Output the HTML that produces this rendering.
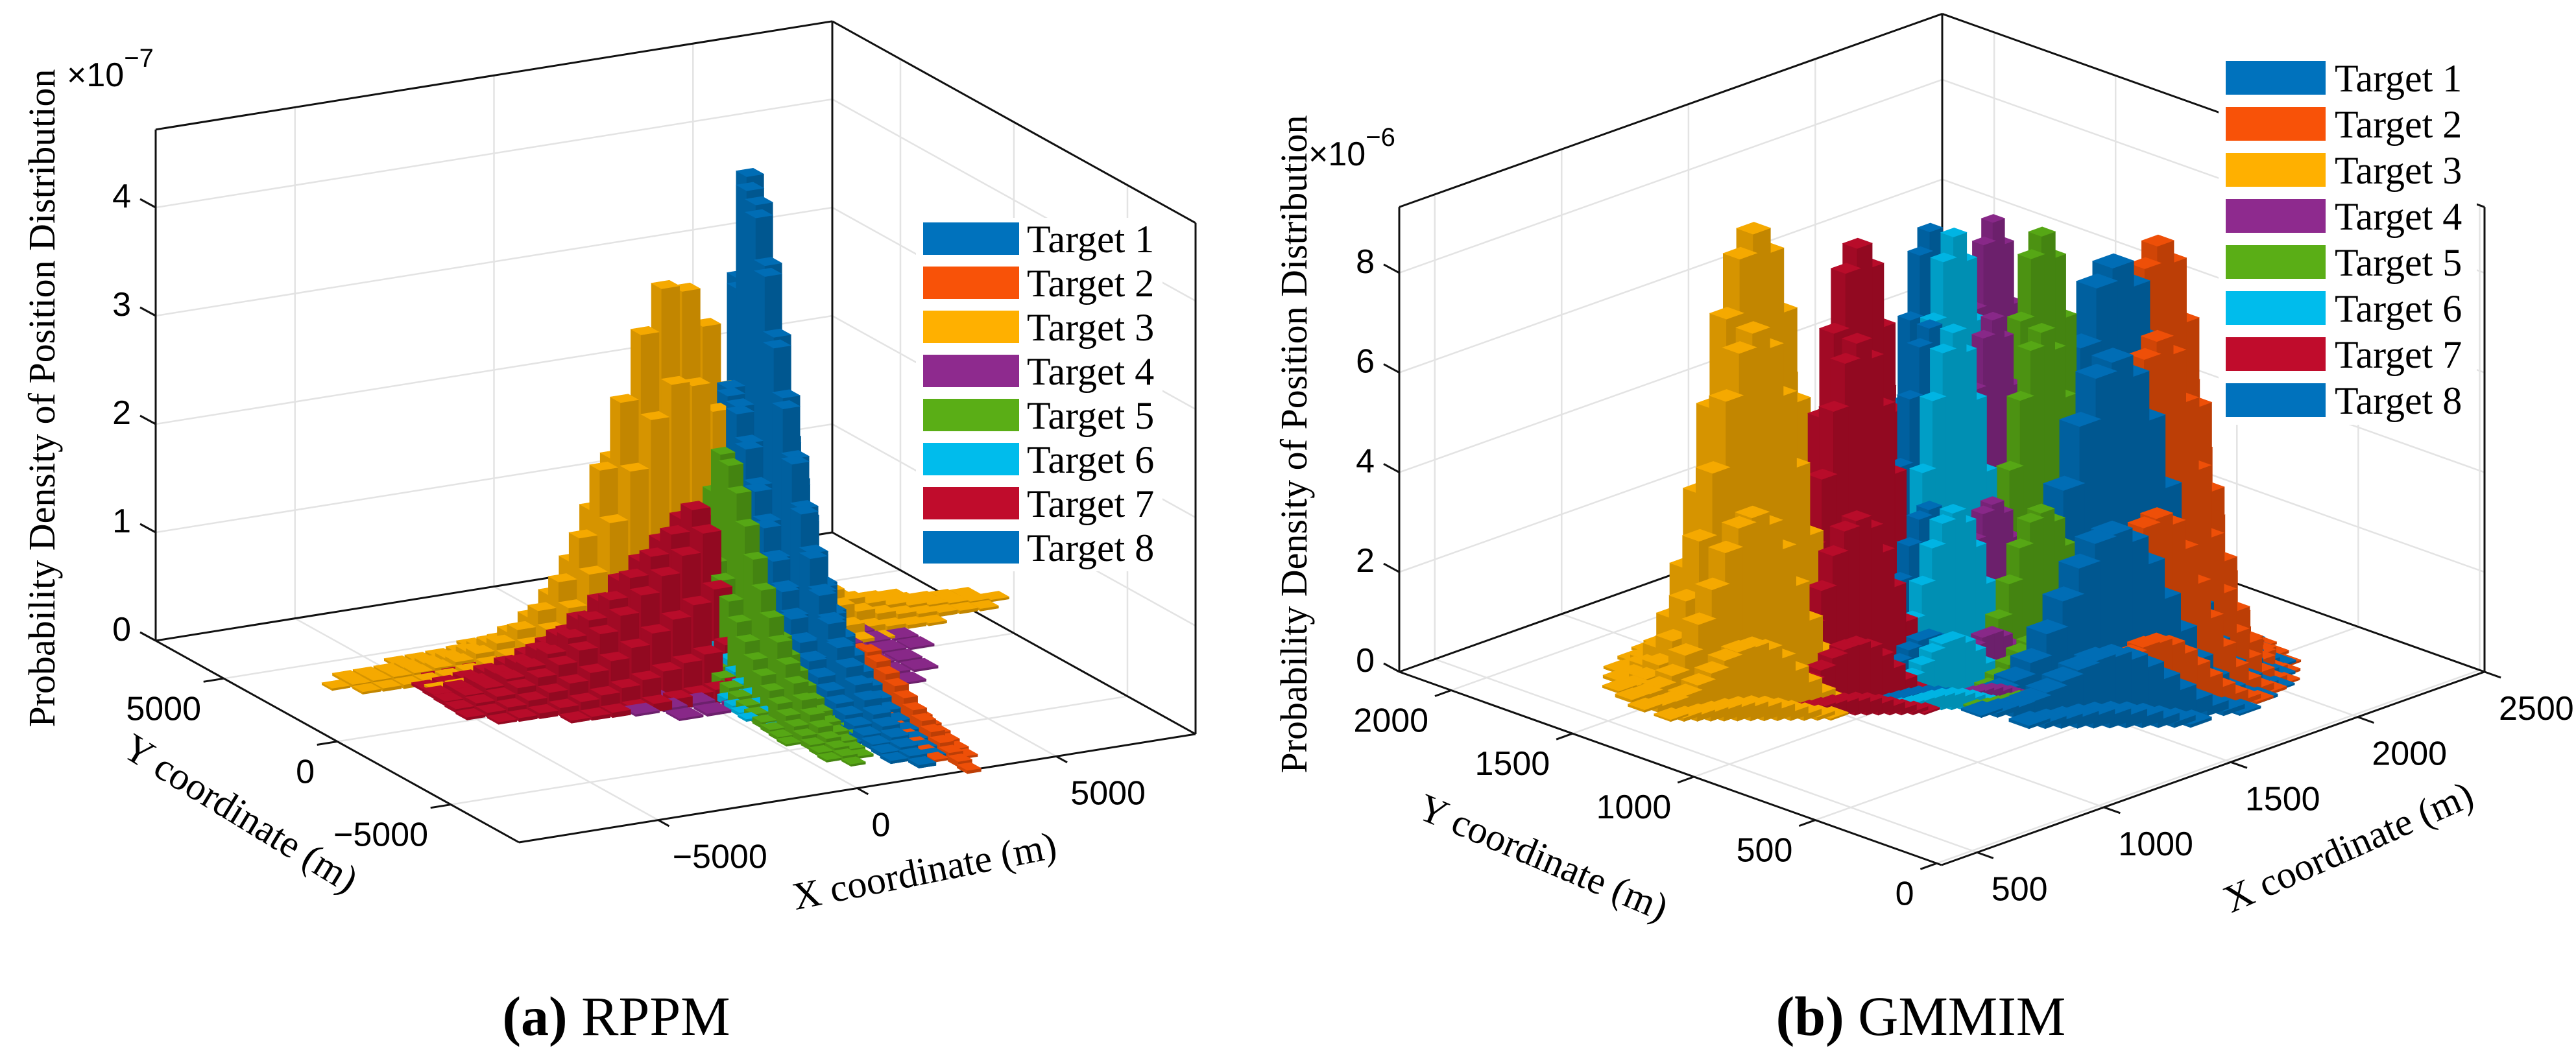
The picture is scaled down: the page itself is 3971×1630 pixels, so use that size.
<!DOCTYPE html>
<html><head><meta charset="utf-8"><style>
html,body{margin:0;padding:0;background:#fff;}
svg{display:block;}
text{font-family:"Liberation Sans",sans-serif;fill:#000;}
.serif{font-family:"Liberation Serif",serif;}
</style></head><body>
<svg id="chart" xmlns="http://www.w3.org/2000/svg" width="3971" height="1630" viewBox="0 0 3971 1630">
<rect x="0" y="0" width="3971" height="1630" fill="#fff"/>
<g id="a-grid"></g>
<g id="a-box"></g>
<g id="a-bars"></g>
<g id="a-ticks"></g>
<g id="b-grid"></g>
<g id="b-box"></g>
<g id="b-bars"></g>
<g id="b-ticks"></g>

<!-- Panel A texts -->
<text class="serif" font-size="58" text-anchor="middle" transform="translate(84,614) rotate(-90)">Probability Density of Position Distribution</text>
<text x="103" y="133" font-size="52">×10<tspan dy="-30" font-size="40">−7</tspan></text>
<text class="serif" font-size="60" text-anchor="middle" dominant-baseline="central" transform="translate(371,1254) rotate(31.5)">Y coordinate (m)</text>
<text class="serif" font-size="60" text-anchor="middle" dominant-baseline="central" transform="translate(1425,1343) rotate(-11.3)">X coordinate (m)</text>
<text class="serif" x="950" y="1596" font-size="86" text-anchor="middle"><tspan font-weight="bold">(a)</tspan> RPPM</text>

<!-- Panel B texts -->
<text class="serif" font-size="58" text-anchor="middle" transform="translate(2014,685) rotate(-90)">Probability Density of Position Distribution</text>
<rect x="2016" y="195" width="145" height="70" fill="#fff"/>
<text x="2017" y="255" font-size="52">×10<tspan dy="-30" font-size="40">−6</tspan></text>
<text class="serif" font-size="60" text-anchor="middle" dominant-baseline="central" transform="translate(2379,1322) rotate(23)">Y coordinate (m)</text>
<text class="serif" font-size="60" text-anchor="middle" dominant-baseline="central" transform="translate(3620,1306) rotate(-24)">X coordinate (m)</text>
<text class="serif" x="2961" y="1596" font-size="86" text-anchor="middle"><tspan font-weight="bold">(b)</tspan> GMMIM</text>

<!-- Legend A -->
<g>
<rect x="1412" y="336" width="380" height="545" fill="#fff"/>
<g><rect x="1423" y="343" width="148" height="50" fill="#0072BD"/><text class="serif" x="1583" y="389" font-size="60">Target 1</text></g>
<g><rect x="1423" y="411" width="148" height="50" fill="#F85208"/><text class="serif" x="1583" y="457" font-size="60">Target 2</text></g>
<g><rect x="1423" y="479" width="148" height="50" fill="#FFB000"/><text class="serif" x="1583" y="525" font-size="60">Target 3</text></g>
<g><rect x="1423" y="547" width="148" height="50" fill="#8E2A8E"/><text class="serif" x="1583" y="593" font-size="60">Target 4</text></g>
<g><rect x="1423" y="615" width="148" height="50" fill="#5AAE16"/><text class="serif" x="1583" y="661" font-size="60">Target 5</text></g>
<g><rect x="1423" y="683" width="148" height="50" fill="#00BCEC"/><text class="serif" x="1583" y="729" font-size="60">Target 6</text></g>
<g><rect x="1423" y="751" width="148" height="50" fill="#C00C2C"/><text class="serif" x="1583" y="797" font-size="60">Target 7</text></g>
<g><rect x="1423" y="819" width="148" height="50" fill="#0072BD"/><text class="serif" x="1583" y="865" font-size="60">Target 8</text></g>
</g>

<!-- Legend B -->
<g>
<rect x="3420" y="85" width="398" height="570" fill="#fff"/>
<g><rect x="3431" y="94" width="154" height="52" fill="#0072BD"/><text class="serif" x="3599" y="141" font-size="60">Target 1</text></g>
<g><rect x="3431" y="165" width="154" height="52" fill="#F85208"/><text class="serif" x="3599" y="212" font-size="60">Target 2</text></g>
<g><rect x="3431" y="236" width="154" height="52" fill="#FFB000"/><text class="serif" x="3599" y="283" font-size="60">Target 3</text></g>
<g><rect x="3431" y="307" width="154" height="52" fill="#8E2A8E"/><text class="serif" x="3599" y="354" font-size="60">Target 4</text></g>
<g><rect x="3431" y="378" width="154" height="52" fill="#5AAE16"/><text class="serif" x="3599" y="425" font-size="60">Target 5</text></g>
<g><rect x="3431" y="449" width="154" height="52" fill="#00BCEC"/><text class="serif" x="3599" y="496" font-size="60">Target 6</text></g>
<g><rect x="3431" y="520" width="154" height="52" fill="#C00C2C"/><text class="serif" x="3599" y="567" font-size="60">Target 7</text></g>
<g><rect x="3431" y="591" width="154" height="52" fill="#0072BD"/><text class="serif" x="3599" y="638" font-size="60">Target 8</text></g>
</g>
</svg>
<script>
// ---------- Tick values ----------
const aTickX = [-5000, 0, 5000];
const aTickY = [-5000, 0, 5000];
const aTickZ = [0, 1, 2, 3, 4];
const aTickLabelX = ['−5000', '0', '5000'];
const aTickLabelY = ['−5000', '0', '5000'];
const bTickX = [500, 1000, 1500, 2000, 2500];
const bTickY = [0, 500, 1000, 1500, 2000];
const bTickZ = [0, 2, 4, 6, 8];

// ---------- Target colors ----------
const targetColors = ['#0072BD', '#F85208', '#FFB000', '#8E2A8E', '#5AAE16', '#00BCEC', '#C00C2C', '#0072BD'];

// ---------- Panel A (RPPM) data ----------
const aCenterX = [3180, 3500, 1400, 2000, 1630, 1600, 1070, 3180];
const aCenterY = [2300, -2000, 2900, 1000, 770, 1250, 1003, 2300];
const aAngle = [-96.4, -96.4, -3.7, 0, -96.4, -98, -3.7, -96.4];
const aStep = [500, 500, 500, 700, 450, 400, 500, 500];
const aStart = [-6, 0, -16, -6, -4, -3, -12, -6];
const aCrossStep = [450, 350, 500, 700, 380, 350, 550, 450];
const aProfile1 = [0.05, 0.15, 0.4, 1.0, 2.0, 3.3, 4.3, 4.1, 3.6, 3.0, 2.5, 2.0, 1.6, 1.25, 0.95, 0.75, 0.58, 0.45, 0.35, 0.27, 0.2, 0.15, 0.11, 0.08, 0.05, 0.03];
const aProfile2 = [0.4, 0.45, 0.42, 0.37, 0.32, 0.27, 0.22, 0.18, 0.14, 0.1, 0.07, 0.05, 0.03];
const aProfile3 = [0.02, 0.03, 0.04, 0.05, 0.06, 0.08, 0.11, 0.16, 0.23, 0.33, 0.48, 0.72, 1.1, 1.7, 2.3, 2.9, 3.3, 3.25, 2.9, 2.3, 1.7, 1.1, 0.7, 0.45, 0.3, 0.2, 0.14, 0.1, 0.07, 0.05, 0.04, 0.03, 0.02];
const aProfile4 = [0.02, 0.03, 0.04, 0.05, 0.06, 0.06, 0.07, 0.06, 0.06, 0.05, 0.04, 0.03, 0.02];
const aProfile5 = [0.1, 0.4, 1.0, 1.6, 2.0, 1.95, 1.75, 1.5, 1.25, 1.02, 0.82, 0.65, 0.5, 0.38, 0.28, 0.2, 0.14, 0.09, 0.06, 0.04, 0.02];
const aProfile6 = [0.1, 0.45, 0.85, 1.1, 1.05, 0.92, 0.78, 0.64, 0.52, 0.41, 0.31, 0.23, 0.16, 0.11, 0.07, 0.04];
const aProfile7 = [0.04, 0.07, 0.11, 0.17, 0.25, 0.35, 0.47, 0.61, 0.77, 0.95, 1.12, 1.3, 1.5, 1.42, 1.2, 0.85, 0.5, 0.25, 0.1];
const aProfile8 = [0.05, 0.14, 0.38, 0.97, 1.95, 3.2, 4.17, 3.98, 3.5, 2.9, 2.4, 1.95, 1.55, 1.2, 0.92, 0.72, 0.56, 0.44, 0.34, 0.26, 0.19, 0.14, 0.1, 0.07, 0.05, 0.03];
const aCross1 = [0.15, 0.55, 1, 0.55, 0.15];
const aCross2 = [0.3, 1, 0.3];
const aCross3 = [0.1, 0.35, 0.75, 1, 0.75, 0.35, 0.1];
const aCross4 = [0.3, 0.5, 0.7, 0.85, 0.95, 1, 0.95, 0.85, 0.7, 0.5, 0.3];
const aCross5 = [0.15, 0.55, 1, 0.55, 0.15];
const aCross6 = [0.2, 0.6, 1, 0.6, 0.2];
const aCross7 = [0.1, 0.3, 0.6, 0.9, 1, 0.9, 0.6, 0.3, 0.1];
const aCross8 = [0.15, 0.55, 1, 0.55, 0.15];

// ---------- Panel B (GMMIM) data ----------
const bCenterX = [1751, 1855, 1030, 1515, 1607, 1429, 1234, 1390];
const bCenterY = [727, 652, 1455, 975, 870, 1047, 1240, 1104];
const bStep = [46, 36, 38, 26, 30, 29, 33, 28];
const bProfile1 = [0.05, 0.14, 0.32, 0.65, 1.2, 2.1, 3.5, 5.1, 6.7, 7.9, 8.3, 7.9, 6.8, 5.1, 3.5, 2.1, 1.2, 0.64, 0.31, 0.13, 0.05];
const bProfile2 = [0.05, 0.14, 0.33, 0.68, 1.25, 2.2, 3.6, 5.3, 7.0, 8.2, 8.65, 8.3, 7.1, 5.4, 3.7, 2.3, 1.3, 0.66, 0.32, 0.13, 0.05];
const bProfile3 = [0.06, 0.15, 0.35, 0.7, 1.3, 2.3, 3.8, 5.5, 7.3, 8.5, 9.0, 8.6, 7.4, 5.6, 3.9, 2.4, 1.3, 0.7, 0.33, 0.14, 0.05];
const bProfile4 = [0.06, 0.16, 0.36, 0.72, 1.3, 2.35, 3.9, 5.6, 7.4, 8.7, 9.15, 8.7, 7.5, 5.6, 3.8, 2.3, 1.3, 0.7, 0.34, 0.15, 0.06];
const bProfile5 = [0.06, 0.15, 0.34, 0.7, 1.28, 2.28, 3.75, 5.45, 7.2, 8.45, 8.9, 8.45, 7.25, 5.45, 3.75, 2.25, 1.28, 0.69, 0.33, 0.14, 0.05];
const bProfile6 = [0.06, 0.15, 0.35, 0.69, 1.3, 2.3, 3.7, 5.4, 7.2, 8.4, 8.9, 8.4, 7.2, 5.4, 3.7, 2.2, 1.25, 0.68, 0.33, 0.14, 0.05];
const bProfile7 = [0.05, 0.14, 0.33, 0.68, 1.25, 2.2, 3.6, 5.3, 7.0, 8.2, 8.7, 8.3, 7.1, 5.4, 3.7, 2.3, 1.3, 0.66, 0.32, 0.13, 0.05];
const bProfile8 = [0.06, 0.15, 0.34, 0.7, 1.3, 2.3, 3.8, 5.5, 7.2, 8.5, 8.97, 8.5, 7.3, 5.5, 3.8, 2.3, 1.3, 0.7, 0.34, 0.15, 0.06];
const bCross = [0.03, 0.14, 0.41, 0.8, 1, 0.8, 0.41, 0.14, 0.03];

// ---------- Geometry (layout, not data) ----------
const NS = 'http://www.w3.org/2000/svg';
const panelA = {fx: 800, fy: 1299, ux: 1043, uy: -167, vx: -560, vy: -311, xmin: -8500, xmax: 8500, ymin: -8000, ymax: 8000, zpx: 167, zmax: 4.72};
const panelB = {fx: 2993, fy: 1334, ux: 837, uy: -298, vx: -836, vy: -298, xmin: 360, xmax: 2500, ymin: -20, ymax: 2214, zpx: 76.9, zmax: 9.32};

function P(pn, x, y, z) {
  const u = (x - pn.xmin) / (pn.xmax - pn.xmin);
  const v = (y - pn.ymin) / (pn.ymax - pn.ymin);
  return [pn.fx + u * pn.ux + v * pn.vx, pn.fy + u * pn.uy + v * pn.vy - z * pn.zpx];
}
function depth(pn, x, y) {
  return (x - pn.xmin) / (pn.xmax - pn.xmin) + (y - pn.ymin) / (pn.ymax - pn.ymin);
}
function line(g, a, b, color, w, name) {
  const el = document.createElementNS(NS, 'line');
  
  
  el.setAttribute('x1', a[0].toFixed(1)); el.setAttribute('y1', a[1].toFixed(1));
  el.setAttribute('x2', b[0].toFixed(1)); el.setAttribute('y2', b[1].toFixed(1));
  el.setAttribute('stroke', color); el.setAttribute('stroke-width', w);
  g.appendChild(el);
}
function label(g, x, y, s, anchor, name) {
  const el = document.createElementNS(NS, 'text');
  
  
  el.setAttribute('x', x.toFixed(1)); el.setAttribute('y', y.toFixed(1));
  el.setAttribute('font-size', '52');
  el.setAttribute('text-anchor', anchor);
  el.textContent = s;
  g.appendChild(el);
}
function shade(hex, f) {
  const n = parseInt(hex.slice(1), 16);
  const r = Math.round(((n >> 16) & 255) * f), g = Math.round(((n >> 8) & 255) * f), b = Math.round((n & 255) * f);
  return 'rgb(' + Math.min(255, r) + ',' + Math.min(255, g) + ',' + Math.min(255, b) + ')';
}

function drawAxes(pn, prefix, tx, ty, tz, txLab, tyLab) {
  const grid = document.getElementById(prefix + '-grid');
  const box = document.getElementById(prefix + '-box');
  const ticks = document.getElementById(prefix + '-ticks');
  const gc = '#e3e3e3';
  const {xmin, xmax, ymin, ymax, zmax} = pn;
  tz.forEach(z => {
    line(grid, P(pn, xmin, ymax, z), P(pn, xmax, ymax, z), gc, 2.5, 'z-gridline');
    line(grid, P(pn, xmax, ymin, z), P(pn, xmax, ymax, z), gc, 2.5, 'z-gridline');
  });
  tx.forEach(x => {
    line(grid, P(pn, x, ymax, 0), P(pn, x, ymax, zmax), gc, 2.5, 'x-gridline');
    line(grid, P(pn, x, ymin, 0), P(pn, x, ymax, 0), gc, 2.5, 'x-gridline');
  });
  ty.forEach(y => {
    line(grid, P(pn, xmax, y, 0), P(pn, xmax, y, zmax), gc, 2.5, 'y-gridline');
    line(grid, P(pn, xmin, y, 0), P(pn, xmax, y, 0), gc, 2.5, 'y-gridline');
  });
  const k = '#111';
  line(box, P(pn, xmin, ymin, 0), P(pn, xmax, ymin, 0), k, 3, 'x-axis-line');
  line(box, P(pn, xmin, ymin, 0), P(pn, xmin, ymax, 0), k, 3, 'y-axis-line');
  line(box, P(pn, xmin, ymax, 0), P(pn, xmax, ymax, 0), k, 3, 'floor-back-edge');
  line(box, P(pn, xmax, ymin, 0), P(pn, xmax, ymax, 0), k, 3, 'floor-back-edge');
  line(box, P(pn, xmin, ymax, 0), P(pn, xmin, ymax, zmax), k, 3, 'z-axis-line');
  line(box, P(pn, xmax, ymax, 0), P(pn, xmax, ymax, zmax), k, 3, 'back-vertical-edge');
  line(box, P(pn, xmax, ymin, 0), P(pn, xmax, ymin, zmax), k, 3, 'right-vertical-edge');
  line(box, P(pn, xmin, ymax, zmax), P(pn, xmax, ymax, zmax), k, 3, 'top-back-edge');
  line(box, P(pn, xmax, ymin, zmax), P(pn, xmax, ymax, zmax), k, 3, 'top-back-edge');
  const yr = ymax - ymin, xr = xmax - xmin;
  tz.forEach(z => {
    const p = P(pn, xmin, ymax, z);
    line(box, p, [p[0] - 24, p[1] - 13], k, 3, 'z-tick');
    label(ticks, p[0] - 38, p[1], String(z), 'end', 'z-tick-label');
  });
  tx.forEach((x, i) => {
    const p = P(pn, x, ymin, 0), q = P(pn, x, ymin - 0.03 * yr, 0);
    line(box, p, q, k, 3, 'x-tick');
    label(ticks, p[0] + 22, p[1] + 74, txLab ? txLab[i] : String(x), 'start', 'x-tick-label');
  });
  ty.forEach((y, i) => {
    const p = P(pn, xmin, y, 0), q = P(pn, xmin - 0.03 * xr, y, 0);
    line(box, p, q, k, 3, 'y-tick');
    label(ticks, p[0] - 35, p[1] + 64, tyLab ? tyLab[i] : String(y), 'end', 'y-tick-label');
  });
}

function buildBoxes(pn, cx, cy, ang, step, start, cross, cstep, profile, color, list, ti) {
  const t = ang * Math.PI / 180;
  const d = [Math.cos(t), Math.sin(t)], p = [-Math.sin(t), Math.cos(t)];
  const hx = 0.5 * (Math.abs(d[0]) * step + Math.abs(p[0]) * cstep) * 0.85;
  const hy = 0.5 * (Math.abs(d[1]) * step + Math.abs(p[1]) * cstep) * 0.85;
  const cm = (cross.length - 1) / 2;
  for (let i = 0; i < profile.length; i++) {
    for (let j = 0; j < cross.length; j++) {
      const off = (i + start) * step, poff = (j - cm) * cstep;
      const x = cx + d[0] * off + p[0] * poff, y = cy + d[1] * off + p[1] * poff;
      const h = profile[i] * cross[j];
      if (h < pn.zmax * 0.004) continue;
      list.push({x, y, h, hx, hy, color, ti, dep: depth(pn, x, y)});
    }
  }
}
function pts(a) { return a.map(q => q[0].toFixed(1) + ',' + q[1].toFixed(1)).join(' '); }
function drawBoxes(pn, gid, list) {
  const g = document.getElementById(gid);
  list.sort((a, b) => b.dep - a.dep);
  list.forEach(bx => {
    const x0 = bx.x - bx.hx, x1 = bx.x + bx.hx, y0 = bx.y - bx.hy, y1 = bx.y + bx.hy, h = bx.h;
    const fxFace = [P(pn, x0, y0, 0), P(pn, x0, y1, 0), P(pn, x0, y1, h), P(pn, x0, y0, h)];
    const fyFace = [P(pn, x0, y0, 0), P(pn, x1, y0, 0), P(pn, x1, y0, h), P(pn, x0, y0, h)];
    const top = [P(pn, x0, y0, h), P(pn, x1, y0, h), P(pn, x1, y1, h), P(pn, x0, y1, h)];
    const faces = [[fxFace, 0.84], [fyFace, 0.76], [top, 0.96]];
    faces.forEach(f => {
      const el = document.createElementNS(NS, 'polygon');
      
      
      el.setAttribute('points', pts(f[0]));
      el.setAttribute('fill', shade(bx.color, f[1]));
      el.setAttribute('stroke', shade(bx.color, f[1]));
      el.setAttribute('stroke-width', '0.6');
      g.appendChild(el);
    });
  });
}

drawAxes(panelA, 'a', aTickX, aTickY, aTickZ, aTickLabelX, aTickLabelY);
drawAxes(panelB, 'b', bTickX, bTickY, bTickZ, null, null);

const aProfiles = [aProfile1, aProfile2, aProfile3, aProfile4, aProfile5, aProfile6, aProfile7, aProfile8];
const aCrosses = [aCross1, aCross2, aCross3, aCross4, aCross5, aCross6, aCross7, aCross8];
const listA = [];
for (let i = 0; i < 8; i++) {
  buildBoxes(panelA, aCenterX[i], aCenterY[i], aAngle[i], aStep[i], aStart[i], aCrosses[i], aCrossStep[i], aProfiles[i], targetColors[i], listA, i);
}
drawBoxes(panelA, 'a-bars', listA);

const bProfiles = [bProfile1, bProfile2, bProfile3, bProfile4, bProfile5, bProfile6, bProfile7, bProfile8];
const listB = [];
for (let i = 0; i < 8; i++) {
  buildBoxes(panelB, bCenterX[i], bCenterY[i], -45, bStep[i], -10, bCross, bStep[i] * 2, bProfiles[i], targetColors[i], listB, i);
}
drawBoxes(panelB, 'b-bars', listB);
</script>
</body></html>
